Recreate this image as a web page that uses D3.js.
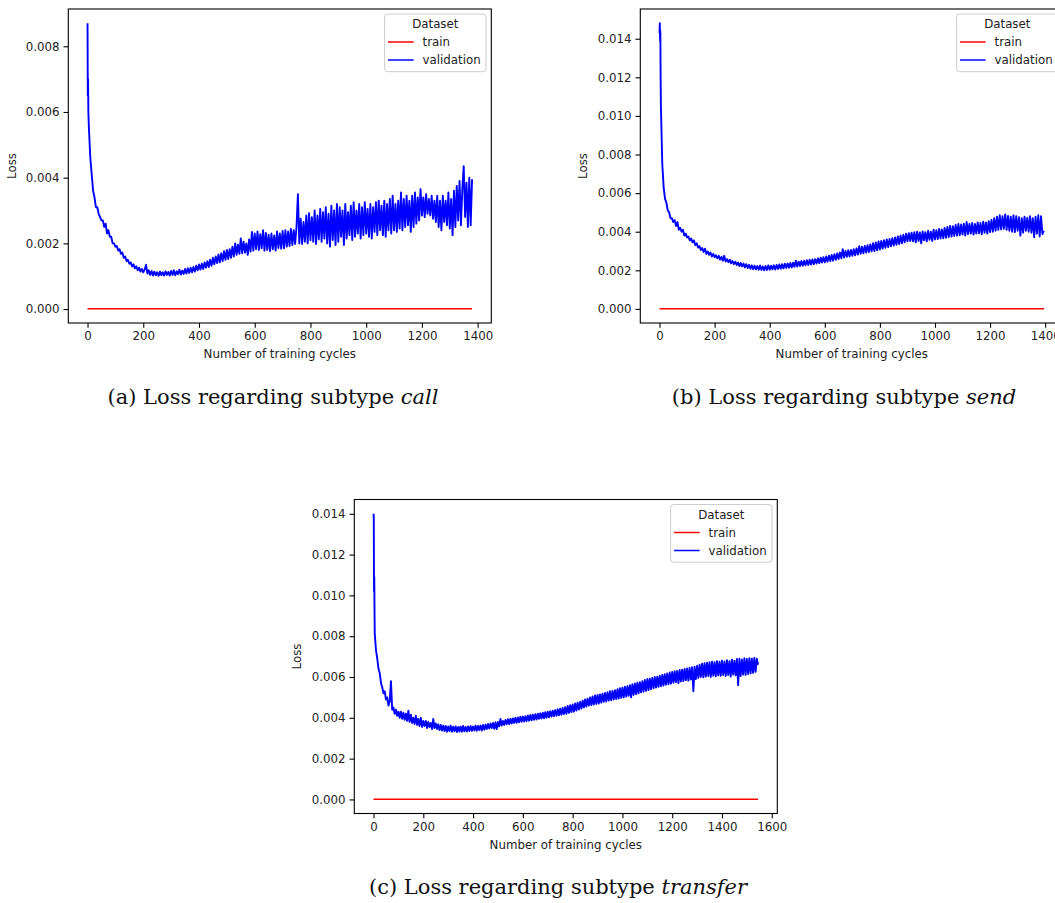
<!DOCTYPE html>
<html>
<head>
<meta charset="utf-8">
<script src="https://cdn.jsdelivr.net/npm/d3@7"></script>
<style>
  body { margin: 0; background: #fff; }
  svg { display: block; }
</style>
</head>
<body>
<svg id="chart" width="1055" height="903"></svg>
<script>
// tick values
const xTicksTo1400 = [0, 200, 400, 600, 800, 1000, 1200, 1400];
const xTicksTo1600 = [0, 200, 400, 600, 800, 1000, 1200, 1400, 1600];
const yTicksCall = [0, 0.002, 0.004, 0.006, 0.008];
const yTicksTo014 = [0, 0.002, 0.004, 0.006, 0.008, 0.010, 0.012, 0.014];
const legendLabels = ['train', 'validation'];

// subtype "call": first cycles as [cycle, loss], then one value every 5 cycles from 5
const callStart = [[0, 0.0087], [1, 0.0065], [2, 0.0070], [3, 0.0060]];
const callLoss = [
  0.0055, 0.0046, 0.0041, 0.0036, 0.0034, 0.0031, 0.0031, 0.0029, 0.0028, 0.0027,
  0.0027, 0.0025, 0.0026, 0.0023, 0.0024, 0.0022, 0.0022, 0.0020, 0.0020, 0.0019,
  0.00192, 0.00178, 0.00182, 0.00168, 0.00172, 0.00156, 0.00160, 0.00146, 0.00150, 0.00138,
  0.00142, 0.00130, 0.00136, 0.00124, 0.00130, 0.00118, 0.00126, 0.00114, 0.00122, 0.00112,
  0.00120, 0.00135, 0.00108, 0.00118, 0.00104, 0.00116, 0.00102, 0.00114, 0.00103, 0.00112,
  0.00101, 0.00114, 0.00103, 0.00112, 0.00102, 0.00115, 0.00104, 0.00113, 0.00102, 0.00116,
  0.00104, 0.00118, 0.00103, 0.00115, 0.00106, 0.00120, 0.00105, 0.00117, 0.00107, 0.00122,
  0.00108, 0.00124, 0.00110, 0.00126, 0.00112, 0.00128, 0.00114, 0.00132, 0.00118, 0.00136,
  0.00120, 0.00138, 0.00122, 0.00142, 0.00126, 0.00146, 0.00128, 0.00150, 0.00132, 0.00156,
  0.00136, 0.00160, 0.00140, 0.00166, 0.00142, 0.00170, 0.00146, 0.00176, 0.00150, 0.00180,
  0.00152, 0.00182, 0.00156, 0.00190, 0.00160, 0.00200, 0.00165, 0.00196, 0.00168, 0.00215,
  0.00170, 0.00205, 0.00172, 0.00200, 0.00165, 0.00212, 0.00175, 0.00235, 0.00178, 0.00230,
  0.00182, 0.00236, 0.00180, 0.00228, 0.00185, 0.00240, 0.00178, 0.00232, 0.00180, 0.00226,
  0.00176, 0.00230, 0.00182, 0.00224, 0.00178, 0.00236, 0.00186, 0.00230, 0.00184, 0.00238,
  0.00185, 0.00240, 0.00190, 0.00236, 0.00192, 0.00244, 0.00195, 0.00240, 0.00198, 0.00250,
  0.00350, 0.00200, 0.00275, 0.00198, 0.00265, 0.00205, 0.00285, 0.00200, 0.00292, 0.00210,
  0.00280, 0.00205, 0.00300, 0.00198, 0.00285, 0.00212, 0.00305, 0.00205, 0.00295, 0.00215,
  0.00310, 0.00200, 0.00290, 0.00190, 0.00315, 0.00210, 0.00300, 0.00195, 0.00320, 0.00205,
  0.00310, 0.00220, 0.00300, 0.00195, 0.00320, 0.00215, 0.00295, 0.00225, 0.00315, 0.00210,
  0.00325, 0.00220, 0.00300, 0.00230, 0.00320, 0.00215, 0.00310, 0.00225, 0.00325, 0.00230,
  0.00305, 0.00220, 0.00320, 0.00215, 0.00310, 0.00235, 0.00325, 0.00225, 0.00330, 0.00240,
  0.00315, 0.00225, 0.00330, 0.00220, 0.00320, 0.00240, 0.00335, 0.00230, 0.00345, 0.00240,
  0.00320, 0.00235, 0.00330, 0.00245, 0.00355, 0.00240, 0.00335, 0.00250, 0.00345, 0.00255,
  0.00330, 0.00235, 0.00345, 0.00250, 0.00355, 0.00260, 0.00340, 0.00270, 0.00365, 0.00285,
  0.00340, 0.00280, 0.00350, 0.00290, 0.00335, 0.00285, 0.00345, 0.00275, 0.00330, 0.00265,
  0.00345, 0.00250, 0.00330, 0.00240, 0.00345, 0.00265, 0.00330, 0.00255, 0.00355, 0.00245,
  0.00335, 0.00225, 0.00360, 0.00250, 0.00375, 0.00270, 0.00390, 0.00255, 0.00365, 0.00435,
  0.00280, 0.00385, 0.00250, 0.00400, 0.00255, 0.00395
];
const callTrain = [[0, 0.00001], [400, 0.00001], [800, 0.00001], [1200, 0.00001], [1380, 0.00001]];

// subtype "send"
const sendStart = [[0, 0.0143], [1, 0.0148], [2, 0.0139], [3, 0.0144], [4, 0.0120]];
const sendLoss = [
  0.0105, 0.0075, 0.0063, 0.0057, 0.0055, 0.0051, 0.0050, 0.0047, 0.0047, 0.0045,
  0.0046, 0.0043, 0.0045, 0.0041, 0.0042, 0.0040, 0.0041, 0.0038, 0.0039, 0.0037,
  0.00375, 0.00355, 0.00365, 0.00345, 0.00355, 0.00330, 0.00340, 0.00318, 0.00325, 0.00305,
  0.00315, 0.00295, 0.00312, 0.00285, 0.00298, 0.00280, 0.00292, 0.00272, 0.00285, 0.00268,
  0.00278, 0.00262, 0.00275, 0.00255, 0.00270, 0.00250, 0.00275, 0.00246, 0.00258, 0.00242,
  0.00255, 0.00236, 0.00248, 0.00232, 0.00245, 0.00228, 0.00240, 0.00222, 0.00238, 0.00220,
  0.00235, 0.00215, 0.00232, 0.00212, 0.00228, 0.00208, 0.00226, 0.00206, 0.00224, 0.00205,
  0.00222, 0.00203, 0.00225, 0.00202, 0.00220, 0.00200, 0.00222, 0.00202, 0.00226, 0.00203,
  0.00224, 0.00205, 0.00226, 0.00204, 0.00228, 0.00207, 0.00230, 0.00208, 0.00232, 0.00210,
  0.00234, 0.00212, 0.00236, 0.00214, 0.00238, 0.00215, 0.00240, 0.00218, 0.00250, 0.00220,
  0.00245, 0.00222, 0.00248, 0.00224, 0.00250, 0.00226, 0.00252, 0.00228, 0.00255, 0.00230,
  0.00256, 0.00232, 0.00258, 0.00235, 0.00262, 0.00237, 0.00265, 0.00240, 0.00268, 0.00242,
  0.00272, 0.00245, 0.00276, 0.00248, 0.00280, 0.00250, 0.00284, 0.00254, 0.00288, 0.00258,
  0.00292, 0.00262, 0.00310, 0.00266, 0.00300, 0.00270, 0.00304, 0.00272, 0.00306, 0.00275,
  0.00310, 0.00278, 0.00314, 0.00282, 0.00325, 0.00285, 0.00322, 0.00288, 0.00326, 0.00292,
  0.00330, 0.00295, 0.00334, 0.00298, 0.00340, 0.00300, 0.00345, 0.00304, 0.00350, 0.00308,
  0.00352, 0.00312, 0.00356, 0.00316, 0.00360, 0.00320, 0.00362, 0.00324, 0.00366, 0.00328,
  0.00370, 0.00332, 0.00375, 0.00336, 0.00380, 0.00340, 0.00384, 0.00345, 0.00390, 0.00350,
  0.00392, 0.00352, 0.00395, 0.00350, 0.00398, 0.00345, 0.00400, 0.00352, 0.00396, 0.00340,
  0.00402, 0.00355, 0.00398, 0.00350, 0.00405, 0.00358, 0.00400, 0.00352, 0.00410, 0.00360,
  0.00408, 0.00362, 0.00415, 0.00365, 0.00412, 0.00366, 0.00420, 0.00368, 0.00425, 0.00372,
  0.00430, 0.00375, 0.00428, 0.00378, 0.00435, 0.00380, 0.00440, 0.00382, 0.00438, 0.00385,
  0.00442, 0.00380, 0.00450, 0.00388, 0.00440, 0.00390, 0.00445, 0.00385, 0.00440, 0.00390,
  0.00448, 0.00392, 0.00445, 0.00388, 0.00452, 0.00395, 0.00448, 0.00390, 0.00455, 0.00398,
  0.00462, 0.00400, 0.00470, 0.00405, 0.00478, 0.00410, 0.00485, 0.00412, 0.00480, 0.00415,
  0.00490, 0.00410, 0.00482, 0.00405, 0.00478, 0.00400, 0.00485, 0.00398, 0.00480, 0.00405,
  0.00475, 0.00380, 0.00470, 0.00395, 0.00478, 0.00405, 0.00472, 0.00400, 0.00480, 0.00395,
  0.00470, 0.00372, 0.00478, 0.00390, 0.00485, 0.00375, 0.00480, 0.00388, 0.00405
];
const sendTrain = [[0, 0.00001], [400, 0.00001], [800, 0.00001], [1200, 0.00001], [1396, 0.00001]];

// subtype "transfer"
const transferStart = [[0, 0.0140], [1, 0.0138], [2, 0.0102], [3, 0.0109], [4, 0.0092]];
const transferLoss = [
  0.0081, 0.0073, 0.0069, 0.0064, 0.0062, 0.0057, 0.0055, 0.0052, 0.0053, 0.0049,
  0.0050, 0.0046, 0.0048, 0.0058, 0.0044, 0.0045, 0.0042, 0.0044, 0.0041, 0.0043,
  0.0040, 0.0043, 0.00395, 0.00425, 0.00390, 0.00420, 0.00385, 0.00435, 0.00380, 0.00415,
  0.00375, 0.00400, 0.00370, 0.00410, 0.00365, 0.00395, 0.00360, 0.00400, 0.00355, 0.00385,
  0.00360, 0.00385, 0.00350, 0.00380, 0.00355, 0.00375, 0.00345, 0.00395, 0.00350, 0.00372,
  0.00345, 0.00368, 0.00340, 0.00365, 0.00338, 0.00362, 0.00335, 0.00360, 0.00332, 0.00358,
  0.00335, 0.00362, 0.00332, 0.00356, 0.00334, 0.00358, 0.00330, 0.00355, 0.00333, 0.00357,
  0.00332, 0.00360, 0.00334, 0.00355, 0.00333, 0.00358, 0.00335, 0.00360, 0.00336, 0.00357,
  0.00338, 0.00362, 0.00337, 0.00360, 0.00340, 0.00362, 0.00338, 0.00365, 0.00342, 0.00366,
  0.00345, 0.00370, 0.00348, 0.00372, 0.00350, 0.00375, 0.00346, 0.00378, 0.00345, 0.00380,
  0.00358, 0.00395, 0.00362, 0.00385, 0.00365, 0.00390, 0.00368, 0.00393, 0.00370, 0.00395,
  0.00372, 0.00397, 0.00375, 0.00400, 0.00376, 0.00402, 0.00378, 0.00405, 0.00380, 0.00406,
  0.00382, 0.00408, 0.00384, 0.00412, 0.00386, 0.00414, 0.00388, 0.00415, 0.00390, 0.00418,
  0.00392, 0.00420, 0.00395, 0.00422, 0.00397, 0.00425, 0.00398, 0.00428, 0.00400, 0.00430,
  0.00403, 0.00432, 0.00406, 0.00435, 0.00408, 0.00438, 0.00410, 0.00442, 0.00412, 0.00445,
  0.00415, 0.00448, 0.00418, 0.00452, 0.00420, 0.00458, 0.00424, 0.00462, 0.00428, 0.00465,
  0.00430, 0.00470, 0.00435, 0.00474, 0.00440, 0.00478, 0.00445, 0.00484, 0.00450, 0.00490,
  0.00455, 0.00494, 0.00460, 0.00500, 0.00462, 0.00505, 0.00465, 0.00510, 0.00468, 0.00512,
  0.00470, 0.00515, 0.00474, 0.00518, 0.00478, 0.00522, 0.00480, 0.00525, 0.00484, 0.00530,
  0.00486, 0.00532, 0.00490, 0.00535, 0.00492, 0.00540, 0.00494, 0.00545, 0.00498, 0.00548,
  0.00500, 0.00552, 0.00504, 0.00555, 0.00508, 0.00560, 0.00500, 0.00565, 0.00512, 0.00568,
  0.00516, 0.00572, 0.00520, 0.00575, 0.00525, 0.00580, 0.00528, 0.00585, 0.00532, 0.00590,
  0.00536, 0.00592, 0.00540, 0.00596, 0.00545, 0.00600, 0.00548, 0.00602, 0.00552, 0.00606,
  0.00555, 0.00610, 0.00558, 0.00614, 0.00562, 0.00618, 0.00565, 0.00622, 0.00568, 0.00625,
  0.00572, 0.00628, 0.00575, 0.00630, 0.00570, 0.00634, 0.00578, 0.00636, 0.00580, 0.00640,
  0.00585, 0.00642, 0.00582, 0.00645, 0.00588, 0.00648, 0.00530, 0.00650, 0.00590, 0.00655,
  0.00595, 0.00660, 0.00600, 0.00665, 0.00598, 0.00668, 0.00602, 0.00670, 0.00605, 0.00672,
  0.00600, 0.00675, 0.00606, 0.00672, 0.00604, 0.00678, 0.00608, 0.00675, 0.00606, 0.00680,
  0.00610, 0.00676, 0.00605, 0.00682, 0.00610, 0.00678, 0.00602, 0.00685, 0.00612, 0.00680,
  0.00608, 0.00688, 0.00560, 0.00690, 0.00605, 0.00686, 0.00612, 0.00692, 0.00610, 0.00688,
  0.00615, 0.00692, 0.00618, 0.00690, 0.00620, 0.00694, 0.00625, 0.00690, 0.00660
];
const transferTrain = [[0, 0.00001], [400, 0.00001], [800, 0.00001], [1200, 0.00001], [1545, 0.00001]];

const svg = d3.select('#chart');
svg.append('rect').attr('width', 1055).attr('height', 903).attr('fill', '#fff');

const W = 423, H = 314;
const tickFont = 'DejaVu Sans';
const fs = 11.8;

function withCycles(start, values) {
  return start.concat(values.map((v, i) => [5 * (i + 1), v]));
}

function drawPanel(p) {
  const g = svg.append('g').attr('transform', `translate(${p.left},${p.top})`);

  const all = p.train.concat(p.val);
  const xExt = d3.extent(all, d => d[0]);
  const yExt = d3.extent(all, d => d[1]);
  const xPad = (xExt[1] - xExt[0]) * 0.05;
  const yPad = (yExt[1] - yExt[0]) * 0.05;

  const x = d3.scaleLinear().domain([xExt[0] - xPad, xExt[1] + xPad]).range([0, W]);
  const y = d3.scaleLinear().domain([yExt[0] - yPad, yExt[1] + yPad]).range([H, 0]);

  const line = d3.line().x(d => x(d[0])).y(d => y(d[1]));

  g.append('path')
    .datum(p.train)
    .attr('d', line)
    .attr('fill', 'none')
    .attr('stroke', 'red')
    .attr('stroke-width', 1.5);

  g.append('path')
    .datum(p.val)
    .attr('d', line)
    .attr('fill', 'none')
    .attr('stroke', 'blue')
    .attr('stroke-width', 1.9)
    .attr('stroke-linejoin', 'round');

  const xAxis = g.append('g')
    .attr('transform', `translate(0,${H})`)
    .call(d3.axisBottom(x).tickValues(p.xTicks).tickSize(4.8).tickPadding(4).tickFormat(d3.format('d')));
  const yAxis = g.append('g')
    .call(d3.axisLeft(y).tickValues(p.yTicks).tickSize(4.8).tickPadding(4).tickFormat(d3.format('.3f')));

  [xAxis, yAxis].forEach(a => {
    a.select('.domain').remove();
    a.selectAll('line').attr('stroke', '#000').attr('stroke-width', 1.1);
    a.selectAll('text').attr('font-family', tickFont).attr('font-size', fs).attr('fill', '#222');
  });

  g.append('rect')
    .attr('width', W).attr('height', H)
    .attr('fill', 'none')
    .attr('stroke', '#000')
    .attr('stroke-width', 1.1);

  g.append('text')
    .attr('x', W / 2).attr('y', H + 35)
    .attr('text-anchor', 'middle')
    .attr('font-family', tickFont).attr('font-size', fs).attr('fill', '#222')
    .text('Number of training cycles');

  g.append('text')
    .attr('transform', `translate(${p.yLabelX},${H / 2}) rotate(-90)`)
    .attr('text-anchor', 'middle')
    .attr('font-family', tickFont).attr('font-size', fs).attr('fill', '#222')
    .text('Loss');

  // legend
  const lw = 101.4, lh = 57.7;
  const lg = g.append('g').attr('transform', `translate(${W - 5.3 - lw},5)`);
  lg.append('rect')
    .attr('width', lw).attr('height', lh).attr('rx', 3)
    .attr('fill', '#fff').attr('fill-opacity', 0.8)
    .attr('stroke', '#ccc').attr('stroke-width', 1);
  lg.append('text')
    .attr('x', lw / 2).attr('y', 14)
    .attr('text-anchor', 'middle')
    .attr('font-family', tickFont).attr('font-size', fs).attr('fill', '#222')
    .text('Dataset');
  const colors = ['red', 'blue'];
  legendLabels.forEach((lab, i) => {
    const cy = 28 + i * 18;
    lg.append('line')
      .attr('x1', 3.4).attr('x2', 29).attr('y1', cy).attr('y2', cy)
      .attr('stroke', colors[i]).attr('stroke-width', 1.5);
    lg.append('text')
      .attr('x', 38).attr('y', cy + 4)
      .attr('font-family', tickFont).attr('font-size', fs).attr('fill', '#222')
      .text(lab);
  });

  // caption
  const cap = svg.append('text')
    .attr('x', p.capX).attr('y', p.capY)
    .attr('text-anchor', 'middle')
    .attr('font-family', 'DejaVu Serif, serif')
    .attr('font-size', 21)
    .attr('fill', '#111');
  cap.append('tspan').text(p.capText + ' ');
  cap.append('tspan').attr('font-style', 'italic').text(p.capItalic);
}

drawPanel({
  left: 68.3, top: 9, xTicks: xTicksTo1400, yTicks: yTicksCall,
  train: callTrain, val: withCycles(callStart, callLoss),
  yLabelX: -52.6, capX: 273, capY: 404,
  capText: '(a) Loss regarding subtype', capItalic: 'call'
});

drawPanel({
  left: 640.3, top: 9, xTicks: xTicksTo1400, yTicks: yTicksTo014,
  train: sendTrain, val: withCycles(sendStart, sendLoss),
  yLabelX: -53.3, capX: 844, capY: 404,
  capText: '(b) Loss regarding subtype', capItalic: 'send'
});

drawPanel({
  left: 354.3, top: 499.5, xTicks: xTicksTo1600, yTicks: yTicksTo014,
  train: transferTrain, val: withCycles(transferStart, transferLoss),
  yLabelX: -53.3, capX: 558, capY: 894,
  capText: '(c) Loss regarding subtype', capItalic: 'transfer'
});
</script>
</body>
</html>
